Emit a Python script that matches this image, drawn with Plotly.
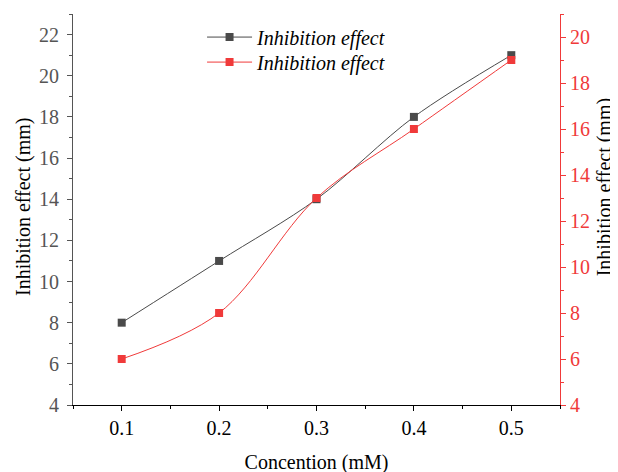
import plotly.graph_objects as go

conc = [0.1, 0.2, 0.3, 0.4, 0.5]
black_vals = [8, 11, 14, 18, 21]
red_vals = [6, 8, 13, 16, 19]
series_name = "Inhibition effect"
x_title = "Concention (mM)"
y_title = "Inhibition effect (mm)"

FONT = "Liberation Serif"
BLACK = "#4a4a4a"
RED = "#f03a3a"
FS = 20

fig = go.Figure()
fig.add_trace(go.Scatter(
    x=conc, y=black_vals, name=series_name, mode="lines+markers",
    line=dict(color=BLACK, width=1, shape="spline", smoothing=0.9),
    marker=dict(symbol="square", size=8, color=BLACK),
    yaxis="y", xaxis="x", legend="legend"))
fig.add_trace(go.Scatter(
    x=conc, y=red_vals, name=series_name, mode="lines+markers",
    line=dict(color=RED, width=1, shape="spline", smoothing=1.0),
    marker=dict(symbol="square", size=8, color=RED),
    yaxis="y2", xaxis="x", legend="legend2"))

leg_common = dict(xanchor="left", yanchor="middle", bgcolor="rgba(0,0,0,0)",
                  font=dict(family=FONT, size=FS, style="italic"), itemwidth=45)

fig.update_layout(
    width=618, height=472,
    margin=dict(l=65, r=66, t=6, b=75, autoexpand=False),
    plot_bgcolor="white", paper_bgcolor="white",
    font=dict(family=FONT, size=FS, color="black"),
    showlegend=True,
    legend=dict(x=0.265, y=0.941, **leg_common),
    legend2=dict(x=0.265, y=0.877, **leg_common),
    xaxis=dict(range=[0.05, 0.55], tickvals=conc, ticktext=["0.1", "0.2", "0.3", "0.4", "0.5"],
               ticks="outside", ticklen=5, tickcolor="black", showline=True, linecolor="black",
               linewidth=1.2, showgrid=False, zeroline=False, automargin=False,
               minor=dict(ticks="outside", ticklen=3, dtick=0.05, tick0=0.05, tickcolor="black"),
               title=dict(text=x_title, font=dict(size=FS), standoff=16),
               tickfont=dict(size=FS, color="black")),
    xaxis2=dict(range=[0.05, 0.55], overlaying="x", side="top", anchor="y",
                tickvals=[0.05, 0.1, 0.15, 0.2, 0.25, 0.3, 0.35, 0.4, 0.45, 0.5, 0.55],
                ticks="inside", ticklen=4, tickcolor="black", showticklabels=False,
                automargin=False,
                showline=True, linecolor="black", linewidth=1.2, showgrid=False, zeroline=False),
    yaxis=dict(range=[4, 23], tickvals=[4, 6, 8, 10, 12, 14, 16, 18, 20, 22],
               ticks="outside", ticklen=5, tickcolor="#555555", showline=True, linecolor="#555555",
               linewidth=1.2, showgrid=False, zeroline=False, automargin=False,
               ticklabelstandoff=4,
               minor=dict(ticks="outside", ticklen=3, dtick=1, tick0=4, tickcolor="#555555"),
               tickfont=dict(size=FS, color="#555555")),
    yaxis2=dict(range=[4, 21], overlaying="y", side="right",
                tickvals=[4, 6, 8, 10, 12, 14, 16, 18, 20],
                ticks="outside", ticklen=5, tickcolor=RED, showline=True, linecolor=RED,
                linewidth=1.2, showgrid=False, zeroline=False, automargin=False,
                minor=dict(ticks="outside", ticklen=3, dtick=1, tick0=4, tickcolor=RED),
                tickfont=dict(size=FS, color=RED)),
)

fig.add_annotation(text=y_title, xref="paper", yref="paper", x=-0.103, y=0.506,
                   xanchor="center", yanchor="middle", textangle=-90, showarrow=False,
                   font=dict(family=FONT, size=FS, color="black"))
fig.add_annotation(text=y_title, xref="paper", yref="paper", x=1.091, y=0.5575,
                   xanchor="center", yanchor="middle", textangle=-90, showarrow=False,
                   font=dict(family=FONT, size=FS, color="black"))

fig.write_html("out.html")
